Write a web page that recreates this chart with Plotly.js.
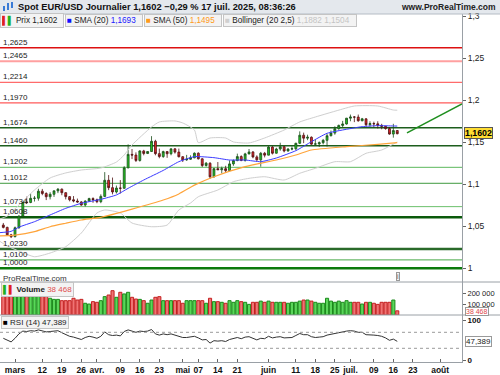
<!DOCTYPE html>
<html><head><meta charset="utf-8">
<script src="https://cdn.plot.ly/plotly-3.0.1.min.js"></script>
<style>html,body{margin:0;padding:0;background:#fff}#chart{width:500px;height:375px}</style>
</head><body><div id="chart"></div>
<script>
const dates = ['2025-02-26','2025-02-27','2025-02-28','2025-03-03','2025-03-04','2025-03-05','2025-03-06','2025-03-07','2025-03-10','2025-03-11','2025-03-12','2025-03-13','2025-03-14','2025-03-17','2025-03-18','2025-03-19','2025-03-20','2025-03-21','2025-03-24','2025-03-25','2025-03-26','2025-03-27','2025-03-28','2025-03-31','2025-04-01','2025-04-02','2025-04-03','2025-04-04','2025-04-07','2025-04-08','2025-04-09','2025-04-10','2025-04-11','2025-04-14','2025-04-15','2025-04-16','2025-04-17','2025-04-18','2025-04-21','2025-04-22','2025-04-23','2025-04-24','2025-04-25','2025-04-28','2025-04-29','2025-04-30','2025-05-01','2025-05-02','2025-05-05','2025-05-06','2025-05-07','2025-05-08','2025-05-09','2025-05-12','2025-05-13','2025-05-14','2025-05-15','2025-05-16','2025-05-19','2025-05-20','2025-05-21','2025-05-22','2025-05-23','2025-05-26','2025-05-27','2025-05-28','2025-05-29','2025-05-30','2025-06-02','2025-06-03','2025-06-04','2025-06-05','2025-06-06','2025-06-09','2025-06-10','2025-06-11','2025-06-12','2025-06-13','2025-06-16','2025-06-17','2025-06-18','2025-06-19','2025-06-20','2025-06-23','2025-06-24','2025-06-25','2025-06-26','2025-06-27','2025-06-30','2025-07-01','2025-07-02','2025-07-03','2025-07-04','2025-07-07','2025-07-08','2025-07-09','2025-07-10','2025-07-11','2025-07-14','2025-07-15','2025-07-16','2025-07-17'];
const open  = [1.0515,1.0487,1.0398,1.0376,1.0483,1.0622,1.0790,1.0784,1.0833,1.0834,1.0918,1.0890,1.0852,1.0881,1.0922,1.0942,1.0900,1.0853,1.0816,1.0801,1.0790,1.0753,1.0800,1.0830,1.0816,1.0793,1.0856,1.1048,1.0960,1.0909,1.0955,1.0953,1.1196,1.1356,1.1348,1.1284,1.1397,1.1367,1.1390,1.1512,1.1365,1.1330,1.1389,1.1364,1.1422,1.1383,1.1328,1.1290,1.1298,1.1315,1.1370,1.1303,1.1224,1.1251,1.1089,1.1186,1.1173,1.1186,1.1163,1.1243,1.1282,1.1330,1.1283,1.1362,1.1385,1.1326,1.1291,1.1369,1.1347,1.1443,1.1370,1.1420,1.1447,1.1396,1.1420,1.1423,1.1488,1.1584,1.1549,1.1560,1.1478,1.1481,1.1495,1.1523,1.1578,1.1610,1.1662,1.1701,1.1718,1.1787,1.1801,1.1800,1.1756,1.1779,1.1709,1.1723,1.1720,1.1701,1.1690,1.1663,1.1598,1.1640];
const high  = [1.0540,1.0495,1.0410,1.0497,1.0630,1.0800,1.0853,1.0888,1.0860,1.0947,1.0945,1.0905,1.0906,1.0925,1.0955,1.0950,1.0905,1.0860,1.0860,1.0830,1.0800,1.0810,1.0840,1.0845,1.0830,1.0880,1.1145,1.1110,1.1080,1.0985,1.1050,1.1215,1.1475,1.1420,1.1380,1.1405,1.1410,1.1395,1.1573,1.1530,1.1425,1.1400,1.1395,1.1425,1.1428,1.1425,1.1335,1.1350,1.1345,1.1380,1.1380,1.1310,1.1265,1.1262,1.1195,1.1265,1.1210,1.1220,1.1285,1.1295,1.1365,1.1345,1.1375,1.1420,1.1395,1.1345,1.1385,1.1385,1.1455,1.1455,1.1435,1.1495,1.1455,1.1430,1.1450,1.1495,1.1630,1.1615,1.1590,1.1570,1.1530,1.1510,1.1540,1.1600,1.1640,1.1690,1.1710,1.1755,1.1790,1.1830,1.1810,1.1830,1.1790,1.1785,1.1750,1.1745,1.1750,1.1720,1.1695,1.1680,1.1720,1.1645];
const low   = [1.0475,1.0387,1.0360,1.0370,1.0470,1.0610,1.0765,1.0775,1.0795,1.0805,1.0870,1.0812,1.0820,1.0850,1.0895,1.0870,1.0820,1.0797,1.0785,1.0780,1.0745,1.0735,1.0790,1.0780,1.0775,1.0775,1.0850,1.0930,1.0880,1.0890,1.0890,1.0945,1.1190,1.1300,1.1265,1.1270,1.1345,1.1360,1.1385,1.1345,1.1310,1.1315,1.1315,1.1345,1.1365,1.1320,1.1265,1.1280,1.1290,1.1310,1.1295,1.1205,1.1210,1.1065,1.1080,1.1170,1.1130,1.1135,1.1160,1.1220,1.1275,1.1275,1.1270,1.1355,1.1310,1.1280,1.1210,1.1320,1.1345,1.1355,1.1365,1.1400,1.1380,1.1390,1.1405,1.1405,1.1480,1.1490,1.1525,1.1470,1.1460,1.1445,1.1475,1.1450,1.1570,1.1590,1.1650,1.1680,1.1710,1.1750,1.1740,1.1745,1.1750,1.1690,1.1685,1.1680,1.1665,1.1655,1.1650,1.1590,1.1555,1.1595];
const close = [1.0487,1.0398,1.0376,1.0483,1.0622,1.0790,1.0784,1.0833,1.0834,1.0918,1.0890,1.0852,1.0881,1.0922,1.0942,1.0900,1.0853,1.0816,1.0801,1.0790,1.0753,1.0800,1.0830,1.0816,1.0793,1.0856,1.1048,1.0960,1.0909,1.0955,1.0953,1.1196,1.1356,1.1348,1.1284,1.1397,1.1367,1.1390,1.1512,1.1365,1.1330,1.1389,1.1364,1.1422,1.1383,1.1328,1.1290,1.1298,1.1315,1.1370,1.1303,1.1224,1.1251,1.1089,1.1186,1.1173,1.1186,1.1163,1.1243,1.1282,1.1330,1.1283,1.1362,1.1385,1.1326,1.1291,1.1369,1.1347,1.1443,1.1370,1.1420,1.1447,1.1396,1.1420,1.1423,1.1488,1.1584,1.1549,1.1560,1.1478,1.1481,1.1495,1.1523,1.1578,1.1610,1.1662,1.1701,1.1718,1.1787,1.1801,1.1800,1.1756,1.1779,1.1709,1.1723,1.1720,1.1701,1.1690,1.1663,1.1598,1.1640,1.1602];
const volume = [175000,175000,175000,175000,200000,200000,200000,200000,200000,184000,175000,175000,154000,144000,144000,132000,132000,132000,154000,138000,144000,108000,101000,123000,117000,132000,169000,184000,224000,163000,209000,194000,209000,163000,147000,144000,132000,108000,138000,163000,169000,132000,132000,132000,132000,132000,108000,132000,132000,132000,132000,132000,108000,154000,123000,123000,117000,108000,132000,117000,132000,123000,117000,98000,117000,117000,128000,117000,128000,117000,117000,117000,117000,108000,117000,117000,128000,138000,138000,128000,117000,108000,108000,154000,128000,117000,128000,117000,132000,117000,117000,117000,101000,117000,117000,108000,98000,117000,117000,117000,138000,38468];
const rsi = [55,50,46,55,66,73,72,74,73,76,74,71,72,73,74,69,64,60,58,55,52,57,60,58,55,60,71,64,62,63,61,72,76,73,70,73,72,73,77,66,63,66,64,66,63,60,57,57,58,60,56,51,52,43,49,48,49,47,52,54,57,54,58,59,55,51,55,54,60,56,58,59,56,57,57,62,67,64,64,59,57,58,59,63,65,68,70,71,73,74,73,70,70,64,64,63,62,60,56,50,53,47.389];

const sma20Dates = ['2025-02-25','2025-02-28','2025-03-04','2025-03-10','2025-03-14','2025-03-20','2025-03-26','2025-04-02','2025-04-08','2025-04-11','2025-04-17','2025-04-24','2025-04-30','2025-05-06','2025-05-13','2025-05-19','2025-05-23','2025-05-29','2025-06-04','2025-06-11','2025-06-17','2025-06-23','2025-06-30','2025-07-04','2025-07-10','2025-07-16','2025-07-17'];
const sma20 = [1.0424,1.0440,1.0490,1.0555,1.0635,1.0714,1.0774,1.0821,1.0873,1.0952,1.1051,1.1165,1.1269,1.1329,1.1317,1.1289,1.1289,1.1269,1.1313,1.1400,1.1507,1.1607,1.1655,1.1686,1.1698,1.1694,1.1693];
const sma50Dates = ['2025-02-25','2025-03-03','2025-03-10','2025-03-14','2025-03-20','2025-03-26','2025-04-02','2025-04-14','2025-04-24','2025-04-30','2025-05-06','2025-05-13','2025-05-23','2025-06-04','2025-06-11','2025-06-17','2025-06-30','2025-07-10','2025-07-17'];
const sma50 = [1.0385,1.0396,1.0436,1.0495,1.0536,1.0575,1.0607,1.0705,1.0813,1.0885,1.0990,1.1090,1.1210,1.1289,1.1349,1.1408,1.1448,1.1476,1.1495];
const bbUpDates = ['2025-02-25','2025-02-27','2025-03-04','2025-03-10','2025-03-14','2025-03-20','2025-03-26','2025-04-02','2025-04-08','2025-04-10','2025-04-14','2025-04-21','2025-04-23','2025-04-29','2025-05-01','2025-05-06','2025-05-07','2025-05-12','2025-05-16','2025-05-20','2025-05-26','2025-05-30','2025-06-06','2025-06-12','2025-06-18','2025-06-27','2025-07-02','2025-07-10','2025-07-16','2025-07-17'];
const bbUp = [1.0586,1.0622,1.0754,1.0932,1.1075,1.1135,1.1170,1.1194,1.1265,1.1349,1.1468,1.1682,1.1742,1.1754,1.1730,1.1646,1.1495,1.1551,1.1551,1.1504,1.1492,1.1551,1.1646,1.1742,1.1801,1.1896,1.1932,1.1932,1.1884,1.1882];
const bbLoDates = ['2025-02-25','2025-02-27','2025-03-04','2025-03-10','2025-03-14','2025-03-20','2025-03-26','2025-04-01','2025-04-03','2025-04-09','2025-04-14','2025-04-21','2025-04-25','2025-04-30','2025-05-05','2025-05-07','2025-05-14','2025-05-20','2025-05-26','2025-05-30','2025-06-06','2025-06-12','2025-06-18','2025-06-25','2025-07-01','2025-07-07','2025-07-11','2025-07-17'];
const bbLo = [1.0325,1.0265,1.0206,1.0138,1.0182,1.0257,1.0420,1.0658,1.0694,1.0658,1.0539,1.0495,1.0515,1.0694,1.0777,1.0852,1.0932,1.1031,1.1071,1.1090,1.1051,1.1131,1.1190,1.1269,1.1269,1.1369,1.1408,1.1504];

const levels = [1.2625,1.2465,1.2214,1.1970,1.1674,1.1460,1.1202,1.1012,1.0734,1.0608,1.0230,1.0100,1.0000];
const trendDates = ['2025-07-21 12:00','2025-08-08 14:24'];
const trendVals = [1.1611,1.1956];

const tickDates = ['2025-03-03','2025-03-12','2025-03-19','2025-03-26','2025-04-01','2025-04-09','2025-04-16','2025-04-23','2025-05-01','2025-05-07','2025-05-14','2025-05-21','2025-06-02','2025-06-11','2025-06-18','2025-06-25','2025-07-01','2025-07-09','2025-07-16','2025-07-23','2025-08-01'];
const tickLabels = ['mars','12','19','26','avr.','09','16','23','mai','07','14','21','juin','11','18','25','juil.','09','16','23','août'];

// styles (kept separate from data)
const levelStyle = [
 {c:'#dd1111',w:1.5},{c:'#ffa0a0',w:2},{c:'#ff6b6b',w:1.2},{c:'#ff5a5a',w:1.2},
 {c:'#1d5e1d',w:1.5},{c:'#1d5e1d',w:1.5},{c:'#5cb85c',w:1},{c:'#3f9a3f',w:1},
 {c:'#6cc06c',w:1},{c:'#0b5a0b',w:2.5},{c:'#2a6a2a',w:2.5},{c:'#45a845',w:1},{c:'#0b7a0b',w:2.5}];

const F = 'Liberation Sans, Arial, sans-serif';
const fmt = (v,d) => v.toFixed(d).replace('.',',');
const PX = x => x/462;
const PY = y => (362-y)/348;

const up = close.map((c,i)=>c>=open[i]);
const traces = [
 {type:'scatter',mode:'lines',x:bbUpDates,y:bbUp,line:{color:'#cfcfcf',width:1,shape:'spline',smoothing:0.6},hoverinfo:'skip',xaxis:'x',yaxis:'y'},
 {type:'scatter',mode:'lines',x:bbLoDates,y:bbLo,line:{color:'#cfcfcf',width:1,shape:'spline',smoothing:0.6},hoverinfo:'skip',xaxis:'x',yaxis:'y'},
 {type:'scatter',mode:'lines',x:sma50Dates,y:sma50,line:{color:'#ffa43a',width:1.2,shape:'spline',smoothing:0.5},hoverinfo:'skip',xaxis:'x',yaxis:'y'},
 {type:'scatter',mode:'lines',x:sma20Dates,y:sma20,line:{color:'#3a3aff',width:1,shape:'spline',smoothing:0.5},hoverinfo:'skip',xaxis:'x',yaxis:'y'},
 {type:'candlestick',x:dates,open:open,high:high,low:low,close:close,xaxis:'x',yaxis:'y',
  increasing:{line:{color:'#1b4d1b',width:0.8},fillcolor:'#22c322'},
  decreasing:{line:{color:'#4d1111',width:0.8},fillcolor:'#e3262a'},whiskerwidth:0,hoverinfo:'skip'},
 {type:'scatter',mode:'lines',x:trendDates,y:trendVals,line:{color:'#1f8f1f',width:1.5},hoverinfo:'skip',xaxis:'x',yaxis:'y'},
 {type:'bar',x:dates,y:volume,xaxis:'x',yaxis:'y2',width:86400000*0.8,
  marker:{color:up.map(u=>u?'#5ad65a':'#ef7474'),line:{color:up.map(u=>u?'#1a8a1a':'#c42020'),width:1}},hoverinfo:'skip'},
 {type:'scatter',mode:'lines',x:dates,y:rsi,line:{color:'#333',width:1},hoverinfo:'skip',xaxis:'x',yaxis:'y3'}
];

const shapes = [];
shapes.push({type:'rect',xref:'paper',yref:'paper',x0:-0.01,x1:1.09,y0:1,y1:1.045,fillcolor:'#e4e8ed',line:{width:0},layer:'below'});
shapes.push({type:'line',xref:'paper',yref:'paper',x0:0,x1:1.09,y0:1,y1:1,line:{color:'#b5bcc4',width:1}});
levels.forEach((lv,i)=>shapes.push({type:'line',xref:'paper',yref:'y',x0:0,x1:1,y0:lv,y1:lv,line:{color:levelStyle[i].c,width:levelStyle[i].w},layer:'below'}));
[70,30].forEach(v=>shapes.push({type:'line',xref:'paper',yref:'y3',x0:0,x1:1,y0:v,y1:v,line:{color:'#9a9a9a',width:1,dash:'3px,3px'}}));
[PY(282),PY(315)].forEach(v=>shapes.push({type:'line',xref:'paper',yref:'paper',x0:0,x1:1.085,y0:v,y1:v,line:{color:'#9aa0a6',width:1}}));
shapes.push({type:'rect',xref:'paper',yref:'paper',x0:PX(3),x1:PX(5),y0:PY(11),y1:PY(6),fillcolor:'#3a7bd5',line:{width:0}});
shapes.push({type:'rect',xref:'paper',yref:'paper',x0:PX(7),x1:PX(9),y0:PY(10),y1:PY(3),fillcolor:'#3a7bd5',line:{width:0}});
shapes.push({type:'rect',xref:'paper',yref:'paper',x0:PX(11),x1:PX(13),y0:PY(8),y1:PY(2),fillcolor:'#3a7bd5',line:{width:0}});

const ann = [];
ann.push({xref:'paper',yref:'paper',x:PX(16),y:PY(7),xanchor:'left',yanchor:'middle',showarrow:false,
 text:'<b>Spot EUR/USD Journalier 1,1602 \u22120,29 % 17 juil. 2025, 08:36:26</b>',font:{family:F,size:9.3,color:'#111'}});
ann.push({xref:'paper',yref:'paper',x:PX(498),y:PY(7),xanchor:'right',yanchor:'middle',showarrow:false,
 text:'<b>www.ProRealTime.com</b>',font:{family:F,size:8.5,color:'#222'}});

// legend row boxes (left edge, width in px); width grows if the text needs more room
const LFS = 8.2;
const cv = document.createElement('canvas').getContext('2d');
cv.font = LFS+'px "Liberation Sans"';
const legBox = [[0,52],[53,64],[118,74],[193,119]];
const legItems = [
 {p:'\u2588\u2588 Prix '+fmt(close[close.length-1],4), t:'<span style="color:#e02020">\u258C</span><span style="color:#20b020">\u258C</span> Prix '+fmt(close[close.length-1],4)},
 {p:'\u2588 SMA (20) '+fmt(sma20[sma20.length-1],4), t:'<span style="color:#1010ff">\u25A0</span> SMA (20) <span style="color:#2020ff">'+fmt(sma20[sma20.length-1],4)+'</span>'},
 {p:'\u2588 SMA (50) '+fmt(sma50[sma50.length-1],4), t:'<span style="color:#ff9a1a">\u25A0</span> SMA (50) <span style="color:#ff9a1a">'+fmt(sma50[sma50.length-1],4)+'</span>'},
 {p:'\u2588 Bollinger (20 2,5) '+fmt(bbUp[bbUp.length-1],4)+' '+fmt(bbLo[bbLo.length-1],4), t:'<span style="color:#cfcfcf">\u25A0</span> Bollinger (20 2,5) <span style="color:#c4c4c4">'+fmt(bbUp[bbUp.length-1],4)+' '+fmt(bbLo[bbLo.length-1],4)+'</span>'}];
let lx = 0;
legItems.forEach((o,i)=>{
 const need = Math.ceil(cv.measureText(o.p).width) + 4;
 const x0 = Math.max(lx, legBox[i][0]);
 const w = Math.max(need, legBox[i][1]-4);
 ann.push({xref:'paper',yref:'paper',x:PX(x0),y:PY(21),xanchor:'left',yanchor:'middle',showarrow:false,
  width:w,align:'left',text:o.t,font:{family:F,size:LFS,color:'#222'},bgcolor:'#f3f3f3',bordercolor:'#c4c4c4',borderwidth:1,borderpad:1});
 lx = x0 + w + 5;
});
levels.forEach(lv=>ann.push({xref:'paper',yref:'y',x:0,y:lv,xanchor:'left',yanchor:'bottom',xshift:1,yshift:-1,showarrow:false,
 text:fmt(lv,4),font:{family:F,size:8,color:'#222'}}));
ann.push({xref:'paper',yref:'paper',x:PX(1),y:PY(278),xanchor:'left',yanchor:'middle',showarrow:false,text:'ProRealTime.com',font:{family:F,size:8,color:'#333'}});
ann.push({xref:'paper',yref:'paper',x:PX(398),y:PY(276),xanchor:'center',yanchor:'middle',showarrow:false,text:'i',font:{family:F,size:7,color:'#555'},bordercolor:'#999',borderwidth:1,borderpad:0,bgcolor:'#f4f4f4'});
ann.push({xref:'paper',yref:'paper',x:PX(1),y:PY(289),xanchor:'left',yanchor:'middle',showarrow:false,
 text:'<span style="color:#20b020">\u258C</span><span style="color:#e02020">\u258C</span> <b>Volume</b> <span style="color:#e05050">38 468</span>',
 font:{family:F,size:8,color:'#222'},bgcolor:'#f3f3f3',bordercolor:'#c4c4c4',borderwidth:1,borderpad:1});
ann.push({xref:'paper',yref:'paper',x:PX(1),y:PY(322),xanchor:'left',yanchor:'middle',showarrow:false,
 text:'<span style="color:#000">\u25A0</span> RSI (14) '+fmt(rsi[rsi.length-1],3),
 font:{family:F,size:8,color:'#222'},bgcolor:'#f3f3f3',bordercolor:'#c4c4c4',borderwidth:1,borderpad:1});
ann.push({xref:'paper',yref:'y',x:1,y:close[close.length-1],xanchor:'left',yanchor:'middle',xshift:2,yshift:1,showarrow:false,
 text:'<b>'+fmt(close[close.length-1],4)+'</b>',font:{family:F,size:8.8,color:'#000'},bgcolor:'#ffdd33',bordercolor:'#555',borderwidth:1,borderpad:0});
ann.push({xref:'paper',yref:'y2',x:1,y:volume[volume.length-1],xanchor:'left',yanchor:'middle',xshift:3,yshift:-1,showarrow:false,
 text:'38 468',font:{family:F,size:7,color:'#e04848'},bgcolor:'#fff',bordercolor:'#999',borderwidth:1,borderpad:0});
ann.push({xref:'paper',yref:'y3',x:1,y:rsi[rsi.length-1],xanchor:'left',yanchor:'middle',xshift:3,showarrow:false,
 text:fmt(rsi[rsi.length-1],3),font:{family:F,size:8,color:'#222'},bgcolor:'#fff',bordercolor:'#999',borderwidth:1,borderpad:0});

const yCommon = {side:'right',anchor:'x',showgrid:false,zeroline:false,showline:true,linecolor:'#9aa0a6',ticks:'outside',ticklen:3,tickcolor:'#666',fixedrange:true};
const layout = {
 width:500,height:375,margin:{l:0,r:38,t:14,b:13},paper_bgcolor:'#fff',plot_bgcolor:'#fff',showlegend:false,
 separators:', ',font:{family:F,size:8.5,color:'#222'},
 xaxis:{type:'date',range:['2025-02-25 03:36','2025-08-08 14:24'],rangebreaks:[{bounds:['sat','mon']}],anchor:'y3',
  tickmode:'array',tickvals:tickDates,ticktext:tickLabels,ticks:'inside',ticklen:3,tickcolor:'#666',showline:true,linecolor:'#9aa0a6',
  showgrid:false,zeroline:false,rangeslider:{visible:false},tickfont:{family:F,size:8.5,color:'#111',weight:'bold'},fixedrange:true},
 yaxis:Object.assign({},yCommon,{domain:[PY(282),1],range:[0.9837,1.3027],tickvals:[1,1.05,1.1,1.15,1.2,1.25,1.3],ticktext:['1','1,05','1,1','1,15','1,2','1,25','1,3'],tickfont:{family:F,size:8.5,color:'#222'}}),
 yaxis2:Object.assign({},yCommon,{domain:[PY(315),PY(282)],range:[0,304000],tickvals:[100000,200000],ticktext:['100 000','200 000'],tickfont:{family:F,size:7.5,color:'#222'}}),
 yaxis3:Object.assign({},yCommon,{domain:[0,PY(315)],range:[-4.25,113.25],tickvals:[0,100],ticktext:['0','100'],tickfont:{family:F,size:8,color:'#111',weight:'bold'}}),
 shapes:shapes,annotations:ann,bargap:0.2
};
Plotly.newPlot('chart',traces,layout,{staticPlot:true,displayModeBar:false});
</script></body></html>
